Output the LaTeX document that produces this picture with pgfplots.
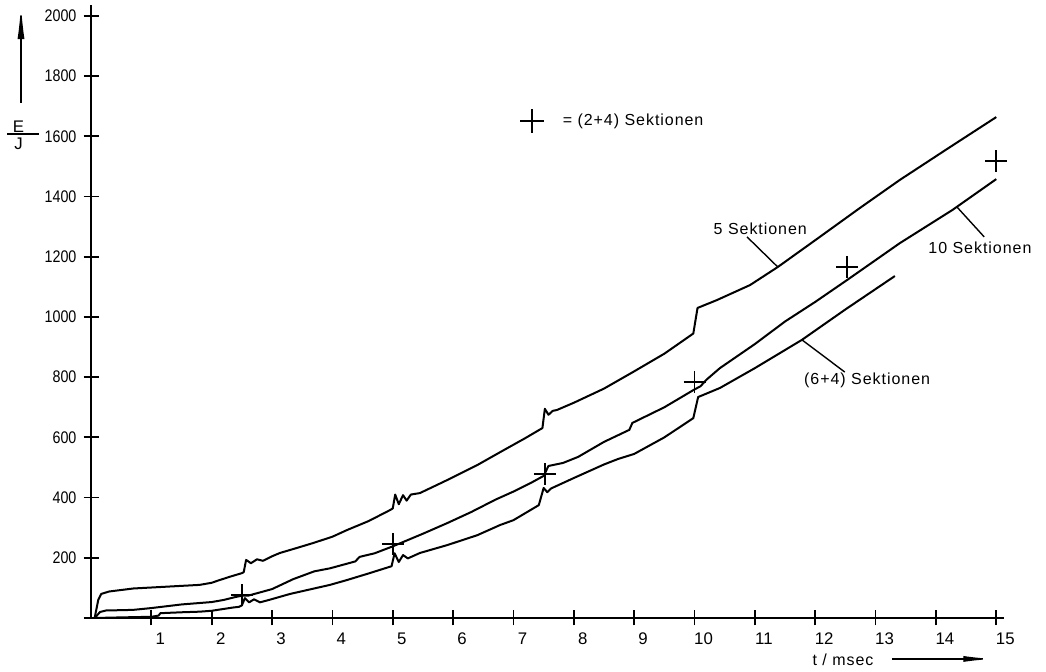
\documentclass[border=0pt]{standalone}
\usepackage{fontspec}
\setmainfont{Liberation Sans}
\newfontfamily\lblfont[LetterSpace=6]{Liberation Sans}
\usepackage{pgfplots}
\pgfplotsset{compat=1.18}
\usetikzlibrary{arrows.meta}
\newcommand{\yl}[1]{\scalebox{0.85}[1]{#1}}
\begin{document}
\begin{tikzpicture}
\begin{axis}[
  x=30.175pt, y=0.15051pt,
  xmin=0, xmax=15.13, ymin=0, ymax=2036,
  axis lines*=left,
  axis line style={line width=1.2pt},
  clip=false,
  xtick={1,2,3,4,5,6,7,8,9,10,11,12,13,14,15},
  xticklabels={1,2,3,4,5,6,7,8,9,10,11,12,13,14,15},
  ytick={0,200,400,600,800,1000,1200,1400,1600,1800,2000},
  yticklabels={,\yl{200},\yl{400},\yl{600},\yl{800},\yl{1000},\yl{1200},\yl{1400},\yl{1600},\yl{1800},\yl{2000}},
  tick align=center,
  major tick length=7.5pt,
  every tick/.style={black, line width=0.9pt},
  tick label style={font=\fontsize{8.4}{10}\selectfont},
  xticklabel style={anchor=north, xshift=4.5pt},
  yticklabel style={anchor=east},
]
% 5 Sektionen
\addplot[black, line width=1pt, line join=round] coordinates {
(0.06,0) (0.12,60) (0.17,80) (0.3,88) (0.7,98) (1.25,104) (1.8,110) (2.0,117) (2.1,124) (2.3,137) (2.5,149)
(2.53,152) (2.57,193) (2.65,182) (2.75,195) (2.85,190) (3.0,205) (3.13,216) (3.4,232) (3.68,249) (4.0,270) (4.24,292)
(4.6,322) (4.96,359) (5.0,364) (5.04,410) (5.1,378) (5.17,408) (5.23,390) (5.3,410) (5.45,415) (5.9,458)
(6.4,508) (6.78,551) (7.2,598) (7.48,631) (7.52,695) (7.58,675) (7.65,688) (7.72,691) (8.0,715) (8.5,762)
(8.98,817) (9.5,878) (9.98,945) (10.05,1030) (10.37,1056) (10.92,1106) (11.38,1166) (12.0,1255) (12.74,1362)
(13.4,1455) (14.2,1560) (15.0,1664)};
% 10 Sektionen
\addplot[black, line width=1pt, line join=round] coordinates {
(0.06,0) (0.15,20) (0.25,25) (0.5,26) (0.7,27) (1.0,33) (1.5,45) (2.0,53) (2.2,60) (2.4,70) (2.5,74)
(2.6,74) (2.8,85) (3.0,96) (3.35,129) (3.7,155) (3.96,165) (4.38,188) (4.45,203) (4.7,215) (5.0,238)
(5.5,280) (5.9,315) (6.3,352) (6.7,393) (7.0,420) (7.3,450) (7.5,472) (7.58,505) (7.82,515) (8.07,535)
(8.5,585) (8.92,625) (8.97,648) (9.5,700) (9.98,757) (10.1,770) (10.2,792) (10.42,830) (11.0,910)
(11.5,985) (12.0,1050) (12.53,1123) (13.4,1245) (14.27,1355) (15.0,1458)};
% (6+4) Sektionen
\addplot[black, line width=1pt, line join=round] coordinates {
(0.06,0) (0.5,2) (1.0,4) (1.12,8) (1.15,16) (1.5,19) (1.8,21) (2.0,24) (2.36,35) (2.45,37) (2.5,42)
(2.55,66) (2.62,52) (2.7,62) (2.8,52) (2.95,60) (3.3,80) (3.96,110) (4.24,126) (4.6,148) (4.98,172)
(5.03,215) (5.1,186) (5.17,209) (5.25,198) (5.45,216) (5.9,242) (6.4,275) (6.78,309) (7.0,325)
(7.42,375) (7.5,432) (7.56,418) (7.62,430) (8.0,465) (8.5,510) (8.73,528) (9.0,545) (9.5,600)
(9.98,664) (10.06,734) (10.42,764) (11.0,830) (11.78,924) (12.5,1025) (13.32,1136)};
% (2+4) Sektionen markers
\addplot[only marks, mark=+, mark size=5.5pt, mark options={line width=0.8pt}] coordinates {
(2.5,76) (5.0,246) (7.52,478) (10.0,784) (12.53,1166) (15.0,1518)};
% legend marker
\addplot[only marks, mark=+, mark size=6pt, mark options={line width=0.8pt}] coordinates {(7.31,1651)};
\node[anchor=west, font=\lblfont\fontsize{8}{10}\selectfont] at (axis cs:7.70,1651) {= (2+4) Sektionen};
% curve labels
\node[font=\lblfont\fontsize{8}{10}\selectfont] at (axis cs:11.09,1292) {5 Sektionen};
\draw[line width=0.7pt] (axis cs:10.87,1266) -- (axis cs:11.38,1166);
\node[anchor=east, font=\lblfont\fontsize{8}{10}\selectfont] at (axis cs:15.70,1229) {10 Sektionen};
\draw[line width=0.7pt] (axis cs:14.35,1365) -- (axis cs:14.80,1266);
\node[anchor=west, font=\lblfont\fontsize{8}{10}\selectfont] at (axis cs:11.70,791) {(6+4) Sektionen};
\draw[line width=0.7pt] (axis cs:11.78,924) -- (axis cs:12.49,817);
% axis labels
\node[font=\fontsize{8.4}{10}\selectfont] at (axis cs:-1.2,1631) {E};
\node[font=\fontsize{8.4}{10}\selectfont] at (axis cs:-1.2,1576) {J};
\draw[line width=0.7pt] (axis cs:-1.39,1608) -- (axis cs:-0.87,1608);
\draw[line width=0.7pt, -{Latex[length=17pt,width=3.5pt]}] (axis cs:-1.16,1711) -- (axis cs:-1.16,2036);
\node[font=\lblfont\fontsize{8}{10}\selectfont] at (axis cs:12.46,-139) {t / msec};
\draw[line width=0.7pt, -{Latex[length=15pt,width=3pt]}] (axis cs:13.27,-136) -- (axis cs:14.95,-136);
\coordinate (bbA) at (axis cs:-1.508,2053);
\coordinate (bbB) at (axis cs:15.824,-179.4);
\end{axis}
\pgfresetboundingbox
\path (bbA) rectangle (bbB);
\end{tikzpicture}
\end{document}
